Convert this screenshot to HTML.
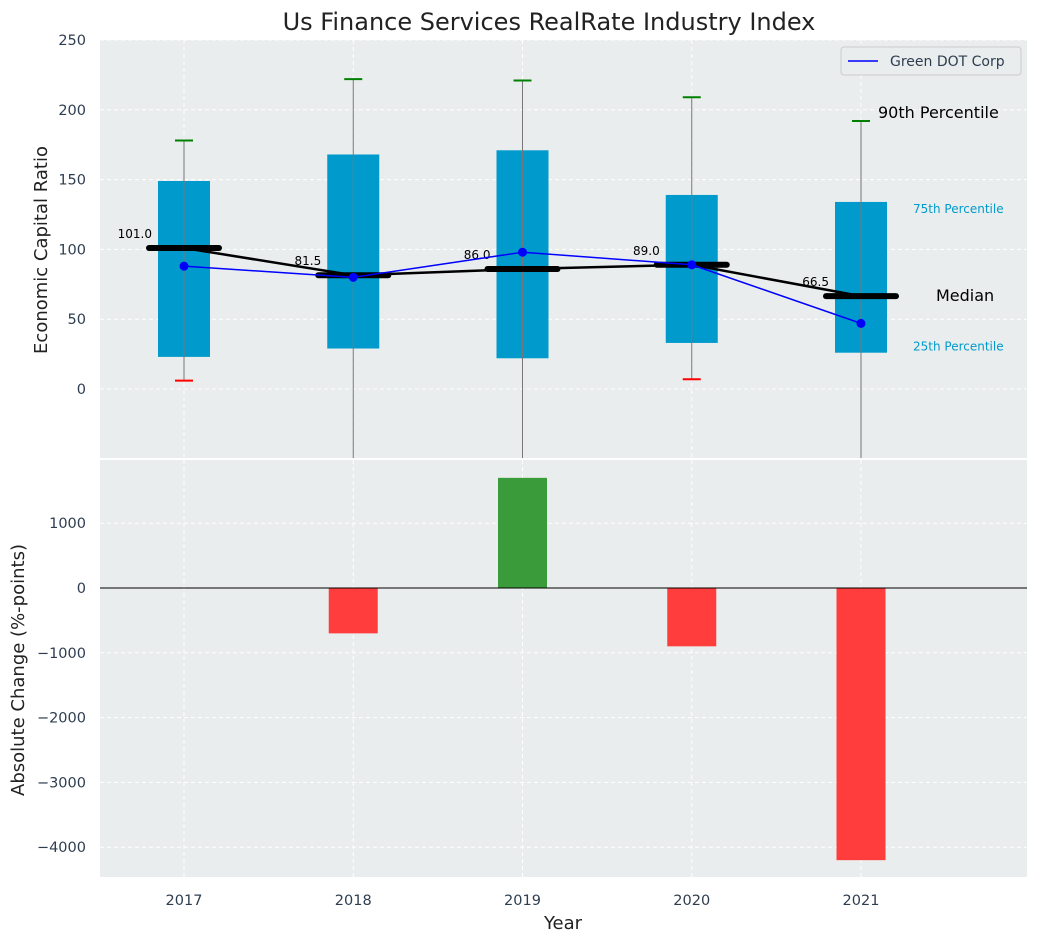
<!DOCTYPE html>
<html><head><meta charset="utf-8"><style>
body{margin:0;background:#fff;font-family:"Liberation Sans","DejaVu Sans",sans-serif}
svg text{font-family:"DejaVu Sans","Liberation Sans",sans-serif}
</style></head><body>
<svg id="c" width="1039" height="942" xmlns="http://www.w3.org/2000/svg"></svg>
<script>
const years=[2017,2018,2019,2020,2021];
const q25=[23,29,22,33,26];
const q75=[149,168,171,139,134];
const p90=[178,222,221,209,192];
const p10=[6,-60,-60,7,-60];
const medians=[101.0,81.5,86.0,89.0,66.5];
const company=[88,80,98,89,47];
const changes=[0,-700,1700,-900,-4200];
const topTicks=[0,50,100,150,200,250];
const botTicks=[-4000,-3000,-2000,-1000,0,1000];

const svg=document.getElementById('c');
const NS='http://www.w3.org/2000/svg';
function el(t,a,txt){const e=document.createElementNS(NS,t);for(const k in a)e.setAttribute(k,a[k]);if(txt!==undefined)e.textContent=txt;svg.appendChild(e);return e;}
const L=100,R=1027,T1=40,B1=458,T2=460,B2=877;
const x=v=>184+(v-2017)*169.25;
const y1=v=>389-v*1.396;
const y2=v=>588-v*0.0648;

let e;
e=el('rect',{x:L,y:T1,width:R-L,height:B1-T1,fill:'#eaeded'});

e=el('rect',{x:L,y:T2,width:R-L,height:B2-T2,fill:'#eaeded'});

years.forEach(v=>{[[T1,B1],[T2,B2]].forEach(([a,b])=>{el('line',{x1:x(v),x2:x(v),y1:a,y2:b,stroke:'#fff','stroke-dasharray':'4,3','stroke-width':1});});});
topTicks.forEach(v=>{el('line',{x1:L,x2:R,y1:y1(v),y2:y1(v),stroke:'#fff','stroke-dasharray':'4,3'});
 e=el('text',{x:L-14,y:y1(v)+5,'text-anchor':'end','font-size':14.5,fill:'#2e3e50'},v);
 });
botTicks.forEach(v=>{el('line',{x1:L,x2:R,y1:y2(v),y2:y2(v),stroke:'#fff','stroke-dasharray':'4,3'});
 e=el('text',{x:L-14,y:y2(v)+5,'text-anchor':'end','font-size':14.5,fill:'#2e3e50'},v<0?'\u2212'+(-v):v);
 });
years.forEach(v=>{e=el('text',{x:x(v),y:905,'text-anchor':'middle','font-size':14.5,fill:'#2e3e50'},v);
 });
years.forEach((v,i)=>{
 const cx=x(v);
 e=el('rect',{x:cx-26,y:y1(q75[i]),width:52,height:y1(q25[i])-y1(q75[i]),fill:'#009bcc'});
 
 const lo=Math.max(p10[i],-49.4);
 el('line',{x1:cx,x2:cx,y1:y1(p90[i]),y2:y1(lo),stroke:'#777','stroke-width':1});
 el('line',{x1:cx-9,x2:cx+9,y1:y1(p90[i]),y2:y1(p90[i]),stroke:'green','stroke-width':2});
 if(p10[i]>-49)el('line',{x1:cx-9,x2:cx+9,y1:y1(p10[i]),y2:y1(p10[i]),stroke:'red','stroke-width':2});
});
e=el('polyline',{points:years.map((v,i)=>x(v)+','+y1(medians[i])).join(' '),fill:'none',stroke:'#000','stroke-width':2.5});

years.forEach((v,i)=>{
 e=el('line',{x1:x(v)-35,x2:x(v)+35,y1:y1(medians[i]),y2:y1(medians[i]),stroke:'#000','stroke-width':6,'stroke-linecap':'round'});
 
 e=el('text',{x:x(v)-32,y:y1(medians[i])-10,'text-anchor':'end','font-size':12,fill:'#000'},medians[i].toFixed(1));
 
});
e=el('polyline',{points:years.map((v,i)=>x(v)+','+y1(company[i])).join(' '),fill:'none',stroke:'blue','stroke-width':1.5});

years.forEach((v,i)=>{e=el('circle',{cx:x(v),cy:y1(company[i]),r:4.5,fill:'blue'});
 });
const last=x(2021);
el('text',{x:last+17,y:y1(p90[4])-3,'font-size':16,fill:'#000'},'90th Percentile');
el('text',{x:last+52,y:y1(q75[4])+11,'font-size':12,fill:'#009bcc'},'75th Percentile');
el('text',{x:last+75,y:y1(medians[4])+5,'font-size':16,fill:'#000'},'Median');
el('text',{x:last+52,y:y1(q25[4])-2,'font-size':12,fill:'#009bcc'},'25th Percentile');
e=el('rect',{x:841,y:47,width:180,height:28,fill:'#eaeded',stroke:'#ccc',rx:3});

el('line',{x1:848,x2:878,y1:61,y2:61,stroke:'blue','stroke-width':1.5});
el('text',{x:890,y:66,'font-size':14,fill:'#2e3e50'},'Green DOT Corp');
years.forEach((v,i)=>{if(!changes[i])return;
 const a=y2(Math.max(0,changes[i])),b=y2(Math.min(0,changes[i]));
 e=el('rect',{x:x(v)-24.5,y:a,width:49,height:b-a,fill:changes[i]>0?'#3a9b3a':'#ff3d3d'});
 });
el('line',{x1:L,x2:R,y1:y2(0),y2:y2(0),stroke:'#000','stroke-width':1});
e=el('text',{x:549,y:30,'text-anchor':'middle','font-size':24,fill:'#222'},'Us Finance Services RealRate Industry Index');

e=el('text',{x:47,y:250,'text-anchor':'middle','font-size':18,fill:'#222',transform:'rotate(-90 47 250)'},'Economic Capital Ratio');

e=el('text',{x:24,y:670,'text-anchor':'middle','font-size':18,fill:'#222',transform:'rotate(-90 24 670)'},'Absolute Change (%-points)');

e=el('text',{x:563,y:929,'text-anchor':'middle','font-size':18,fill:'#222'},'Year');

</script>
</body></html>
